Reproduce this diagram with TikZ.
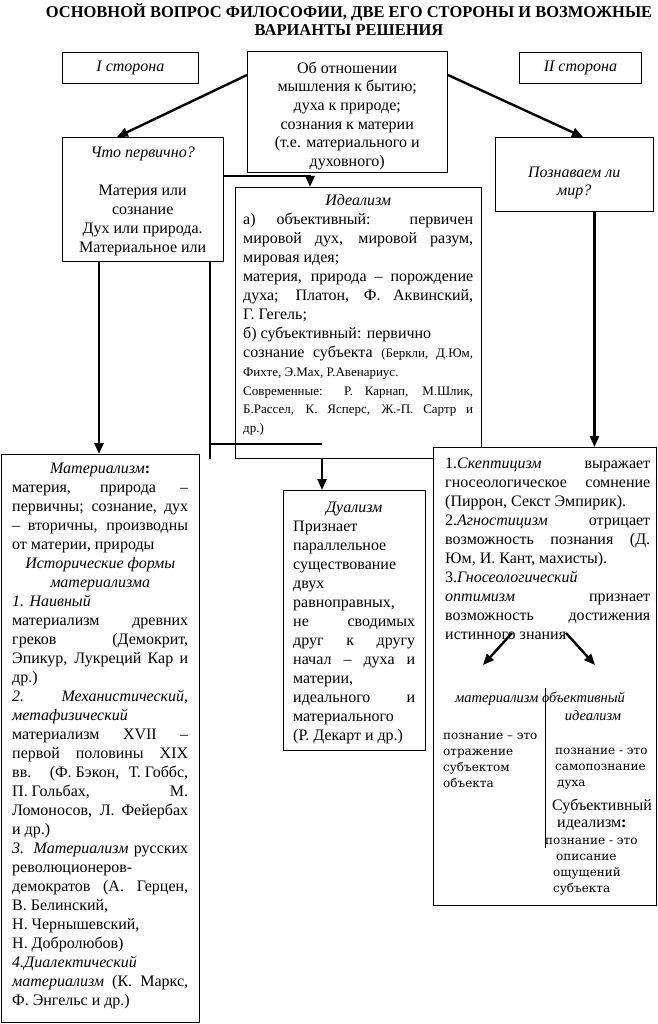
\documentclass[tikz,border=0pt]{standalone}
\usepackage{fontspec}
\setmainfont{Liberation Serif}
\newfontfamily\dejavu{DejaVu Serif}
\usetikzlibrary{arrows.meta, positioning, calc}

\newcommand\bodyfont{\fontsize{16}{19}\selectfont}
\newcommand\smallfont{\fontsize{13}{18.5}\selectfont}
\newcommand\notefont{\dejavu\fontsize{12}{16}\selectfont}
\newcommand\tblock[2]{\vtop{\hsize=#1\relax#2}}
\newcommand\jline[1]{\hbox to\hsize{\strut#1}}
\newcommand\lline[1]{\hbox to\hsize{\strut#1\hfil}}
\newcommand\mline[1]{\hbox to\hsize{\hfil\strut#1\hfil}}

\tikzset{
  box/.style={draw, line width=0.9pt, fill=white, inner sep=0pt, anchor=north west, font=\bodyfont},
  txt/.style={anchor=north west, inner sep=0pt, font=\bodyfont},
  arr/.style={line width=2.4pt, -{Triangle[length=11pt,width=9pt]}},
  link/.style={line width=2.4pt}
}

\begin{document}
\begin{tikzpicture}[x=1pt, y=-1pt]
\useasboundingbox (0,0) rectangle (657,1024);
\fill[white] (0,0) rectangle (657,1024);

% title
\node[font=\fontsize{16.5}{18}\selectfont\bfseries, align=center] (title) at (349,20)
  {ОСНОВНОЙ ВОПРОС ФИЛОСОФИИ, ДВЕ ЕГО СТОРОНЫ И ВОЗМОЖНЫЕ\\ВАРИАНТЫ РЕШЕНИЯ};

% top row
\node[box, minimum width=136pt, minimum height=31pt] (side1) at (62,52) {\textit{I сторона}};
\node[box, minimum width=122pt, minimum height=31pt] (side2) at (519,52) {\textit{II сторона}};
\node[box, minimum width=200pt, minimum height=121pt] (qmain) at (247,51) {};
\node[txt, font=\fontsize{16}{18.6}\selectfont] (qtext) at (247,60) {\tblock{200pt}{
  \mline{Об отношении}
  \mline{мышления к бытию;}
  \mline{духа к природе;}
  \mline{сознания к материи}
  \mline{(т.е. материального и}
  \mline{духовного)}}};

% first side
\node[box, minimum width=161pt, minimum height=124pt] (chto) at (62,137) {};
\node[txt] (chtotext) at (62,143.7) {\tblock{161pt}{
  \mline{\textit{Что первично?}}
  \mline{}
  \mline{Материя или}
  \mline{сознание}
  \mline{Дух или природа.}
  \mline{Материальное или}}};

\node[box, minimum width=246pt, minimum height=271pt] (ideal) at (235,187) {};
\node[txt] (idealtext) at (243,191.7) {\tblock{230pt}{
  \mline{\textit{Идеализм}}
  \jline{а) объективный: первичен}
  \jline{мировой дух, мировой разум,}
  \lline{мировая идея;}
  \jline{материя, природа – порождение}
  \jline{духа; Платон, Ф. Аквинский,}
  \lline{Г. Гегель;}
  \lline{б) субъективный: первично}
  \jline{сознание субъекта {\smallfont(Беркли, Д.Юм,}}
  {\smallfont
  \lline{Фихте, Э.Мах, Р.Авенариус.}
  \jline{Современные: Р. Карнап, М.Шлик,}
  \jline{Б.Рассел, К. Ясперс, Ж.-П. Сартр и}
  \lline{др.)}}}};

\node[box, minimum width=198pt, minimum height=568pt] (mater) at (1,454) {};
\node[txt] (matertext) at (12,459.7) {\tblock{176pt}{
  \mline{\textit{Материализм}\textbf{:}}
  \jline{материя, природа –}
  \jline{первичны; сознание, дух}
  \jline{– вторичны, производны}
  \lline{от материи, природы}
  \mline{\textit{Исторические формы}}
  \mline{\textit{материализма}}
  \lline{\textit{1. Наивный}}
  \jline{материализм древних}
  \jline{греков (Демокрит,}
  \jline{Эпикур, Лукреций Кар и}
  \lline{др.)}
  \jline{\textit{2. Механистический,}}
  \lline{\textit{метафизический}}
  \jline{материализм XVII –}
  \jline{первой половины XIX}
  \jline{вв. (Ф.\kern.25em Бэкон, Т.\kern.25em Гоббс,}
  \jline{П.\kern.25em Гольбах, М.}
  \jline{Ломоносов, Л. Фейербах}
  \lline{и др.)}
  \jline{\textit{3. Материализм} русских}
  \lline{революционеров-}
  \jline{демократов (А. Герцен,}
  \lline{В. Белинский,}
  \lline{Н. Чернышевский,}
  \lline{Н. Добролюбов)}
  \lline{\textit{4.Диалектический}}
  \jline{\textit{материализм} (К. Маркс,}
  \lline{Ф. Энгельс и др.)}}};

\node[box, minimum width=142pt, minimum height=260pt] (dual) at (283,490) {};
\node[txt] (dualtext) at (293,498.7) {\tblock{122pt}{
  \mline{\textit{Дуализм}}
  \lline{Признает}
  \lline{параллельное}
  \lline{существование}
  \lline{двух}
  \lline{равноправных,}
  \jline{не сводимых}
  \jline{друг к другу}
  \jline{начал – духа и}
  \lline{материи,}
  \jline{идеального и}
  \lline{материального}
  \lline{(Р. Декарт и др.)}}};

% second side
\node[box, minimum width=158pt, minimum height=74pt] (pozn) at (495,137) {};
\node[txt, font=\fontsize{16}{18}\selectfont] (pozntext) at (495,164.4) {\tblock{158pt}{
  \mline{\textit{Познаваем ли}}
  \mline{\textit{мир?}}}};

\node[box, minimum width=223pt, minimum height=458pt] (skept) at (433,447) {};
\node[txt] (skepttext) at (445,454.7) {\tblock{205pt}{
  \jline{1.\textit{Скептицизм} выражает}
  \jline{гносеологическое сомнение}
  \lline{(Пиррон, Секст Эмпирик).}
  \jline{2.\textit{Агностицизм} отрицает}
  \jline{возможность познания (Д.}
  \lline{Юм, И. Кант, махисты).}
  \lline{3.\textit{Гносеологический}}
  \jline{\textit{оптимизм} признает}
  \jline{возможность достижения}
  \lline{истинного знания}}};

\node[anchor=base west, inner sep=0pt, font=\fontsize{14.5}{17}\selectfont\itshape] (matview) at (455,702) {материализм объективный};
\node[anchor=base, inner sep=0pt, font=\fontsize{14.5}{17}\selectfont\itshape] (idview) at (593,720) {идеализм};
\node[txt, font=\notefont] (matnote) at (443,728.3) {\tblock{100pt}{
  \lline{познание – это}
  \lline{отражение}
  \lline{субъектом}
  \lline{объекта}}};
\node[txt, font=\notefont] (idnote) at (545,743.3) {\tblock{110pt}{
  \lline{\hspace{10pt}познание - это}
  \lline{\hspace{10pt}самопознание}
  \lline{\hspace{12pt}духа}
  \vskip6.5pt
  {\rmfamily\fontsize{16}{17}\selectfont
  \lline{\hspace{7pt}Субъективный}
  \lline{\hspace{12pt}идеализм\textbf{:}}}
  \lline{познание - это}
  \lline{\hspace{11pt}описание}
  \lline{\hspace{8pt}ощущений}
  \lline{\hspace{8pt}субъекта}}};

% connectors
\draw[arr] ($(qmain.north west)+(0,24)$) -- ($(chto.north west)+(55,0)$);
\draw[arr] ($(qmain.north east)+(0,24)$) -- ($(pozn.north west)+(88,0)$);
\draw[arr] ([yshift=-3pt]qmain.south -| chto.east) -| ($(ideal.north west)+(75,0)$);
\draw[arr] ($(chto.south west)+(37,0)$) -- ($(mater.north west)+(98,0)$);
\coordinate (fork) at ($(chto.south west)+(148,0)$);
\coordinate (split) at ($(ideal.south west)+(87,-15)$);
\draw[link] (fork) -- (fork |- ideal.south);
\draw[link] (fork |- split) -- (split);
\draw[arr] (split |- ideal.south) -- (split |- dual.north);
\coordinate (pdown) at ($(pozn.south)+(20,0)$);
\draw[arr] (pdown) -- (pdown |- skept.north);

% inside the second side
\draw[arr] ($(skept.north west)+(79,186)$) -- ($(skept.north west)+(50,218)$);
\draw[arr] ($(skept.north west)+(133,186)$) -- ($(skept.north west)+(162,218)$);
\draw[line width=0.8pt] ($(skept.north west)+(112,241)$) -- ++(0,160);
\end{tikzpicture}
\end{document}
